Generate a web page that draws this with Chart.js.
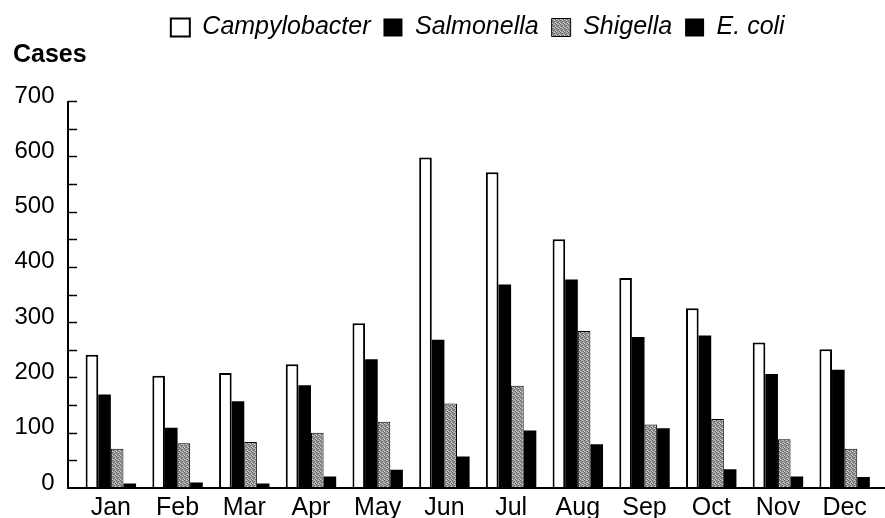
<!DOCTYPE html>
<html>
<head>
<meta charset="utf-8">
<script src="https://cdn.jsdelivr.net/npm/chart.js@4"></script>
<style>
  html, body { margin: 0; padding: 0; background: #fff; }
  #wrap { width: 885px; height: 518px; }
</style>
</head>
<body>
<div id="wrap"><canvas id="casesChart" width="885" height="518"></canvas></div>
<script>
const months = ["Jan", "Feb", "Mar", "Apr", "May", "Jun", "Jul", "Aug", "Sep", "Oct", "Nov", "Dec"];
const campylobacter = [241, 203, 208, 224, 298, 598, 571, 450, 380, 325, 263, 251];
const salmonella = [169, 109, 157, 186, 233, 268, 368, 377, 273, 276, 206, 214];
const shigella = [71, 81, 83, 100, 120, 153, 185, 284, 115, 125, 88, 71];
const ecoli = [8, 10, 8, 21, 33, 57, 104, 79, 108, 34, 21, 20];

const FONT = "'Liberation Sans', Arial, sans-serif";

// stippled grey fill for Shigella
function makeStipple() {
  const c = document.createElement("canvas");
  c.width = 4; c.height = 4;
  const g = c.getContext("2d");
  g.fillStyle = "#9a9a9a";
  g.fillRect(0, 0, 4, 4);
  g.fillStyle = "#5e5e5e";
  g.fillRect(0, 0, 1, 1); g.fillRect(2, 1, 1, 1); g.fillRect(1, 2, 1, 1); g.fillRect(3, 3, 1, 1);
  g.fillStyle = "#d4d4d4";
  g.fillRect(2, 0, 1, 1); g.fillRect(0, 3, 1, 1); g.fillRect(3, 2, 1, 1);
  return g.createPattern(c, "repeat");
}

// axis lines sit a little left of the first category, ticks point inward
const axesPlugin = {
  id: "axesPlugin",
  afterDraw(chart) {
    const ctx = chart.ctx;
    const y = chart.scales.y;
    const axisX = Math.round(chart.chartArea.left - 9.5);
    const base = Math.round(y.getPixelForValue(0));
    ctx.save();
    ctx.strokeStyle = "#000";
    ctx.lineWidth = 2;
    ctx.beginPath();
    ctx.moveTo(axisX, Math.round(y.getPixelForValue(700)));
    ctx.lineTo(axisX, base + 1);
    ctx.moveTo(axisX - 1, base);
    ctx.lineTo(chart.width, base);
    ctx.stroke();
    ctx.lineWidth = 1.5;
    for (let v = 50; v <= 700; v += 50) {
      const py = Math.round(y.getPixelForValue(v)) + 0.5;
      ctx.beginPath();
      ctx.moveTo(axisX, py);
      ctx.lineTo(axisX + 9, py);
      ctx.stroke();
    }
    ctx.restore();
  }
};

const stipple = makeStipple();

new Chart(document.getElementById("casesChart"), {
  type: "bar",
  data: {
    labels: months,
    datasets: [
      { label: "Campylobacter", data: campylobacter, backgroundColor: "#fff", borderColor: "#000", borderWidth: 2 },
      { label: "Salmonella", data: salmonella, backgroundColor: "#000", borderColor: "#000", borderWidth: 0 },
      { label: "Shigella", data: shigella, backgroundColor: stipple, borderColor: "#000", borderWidth: 1 },
      { label: "E. coli", data: ecoli, backgroundColor: "#000", borderColor: "#000", borderWidth: 0 }
    ]
  },
  options: {
    responsive: false,
    animation: false,
    layout: { padding: { left: 13, right: 7, top: 2, bottom: 0 } },
    datasets: { bar: { categoryPercentage: 0.756, barPercentage: 1.0 } },
    plugins: {
      tooltip: { enabled: false },
      legend: {
        position: "top",
        fullSize: false,
        labels: {
          color: "#000",
          font: { family: FONT, size: 25, style: "italic" },
          boxWidth: 19,
          boxHeight: 18,
          padding: 13
        }
      },
      title: {
        display: true,
        text: "Cases",
        align: "start",
        weight: 500,
        color: "#000",
        font: { family: FONT, size: 25, weight: "bold" },
        padding: { top: -10, bottom: 31 }
      }
    },
    scales: {
      x: {
        grid: { display: false, drawTicks: false },
        border: { display: false },
        ticks: { color: "#000", font: { family: FONT, size: 25 }, padding: 5, maxRotation: 0 },
        afterFit(scale) { scale.height = 30; }
      },
      y: {
        min: 0,
        max: 700,
        grid: { display: false, drawTicks: false },
        border: { display: false },
        ticks: {
          stepSize: 100,
          color: "#000",
          font: { family: FONT, size: 24, lineHeight: "10px" },
          padding: 23,
          callback: (v) => [String(v), ""]
        },
        afterFit(scale) {
          scale.width = 64.5;
          scale.paddingTop = 0;
          scale.paddingBottom = 0;
        }
      }
    }
  },
  plugins: [axesPlugin]
});
</script>
</body>
</html>
